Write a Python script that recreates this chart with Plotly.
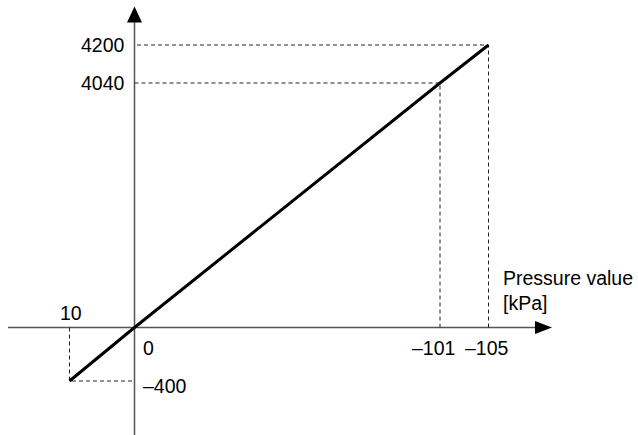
import numpy as np
import plotly.graph_objects as go

# values (pressure in kPa -> output value)
pressure_kpa = [10, 0, -101, -105]
output_value = [-400, 0, 4040, 4200]
x_labels = ["10", "0", "–101", "–105"]
y_labels = ["–400", "0", "4040", "4200"]

# the diagram is not drawn to scale, so use a schematic scale per axis
x_scale_in = [-105, -101, 0, 10]
x_scale_out = [354, 305.5, 0, -65]
y_scale_in = [-400, 0, 4040, 4200]
y_scale_out = [-53.5, 0, 244.5, 282.5]

xs = np.interp(pressure_kpa, x_scale_in, x_scale_out)
ys = np.interp(output_value, y_scale_in, y_scale_out)

FONT = "Liberation Sans, Arial, Helvetica, sans-serif"
FONT_SIZE = 19.5
AXIS_COLOR = "#555555"

fig = go.Figure()

# dashed guide lines from each point to the axes
gx, gy = [], []
for px, py in zip(xs, ys):
    if px == 0 and py == 0:
        continue
    gx += [px, px, 0, None]
    gy += [0, py, py, None]
fig.add_trace(go.Scatter(x=gx, y=gy, mode="lines",
                         line=dict(color="#222222", width=1, dash="4px,3px"),
                         hoverinfo="skip"))

# characteristic line
fig.add_trace(go.Scatter(x=xs, y=ys, mode="lines",
                         line=dict(color="black", width=3)))

shapes = [
    # axes
    dict(type="line", x0=-126.5, x1=401, y0=0, y1=0, line=dict(color=AXIS_COLOR, width=1.5)),
    dict(type="line", x0=0, x1=0, y0=-110, y1=306, line=dict(color=AXIS_COLOR, width=1.5)),
    # arrow heads
    dict(type="path", path="M -7.5 305 L 7.5 305 L 0 321 Z",
         fillcolor="black", line=dict(width=0)),
    dict(type="path", path="M 400.5 -6.5 L 400.5 6.5 L 417.5 0 Z",
         fillcolor="black", line=dict(width=0)),
]
for s in shapes:
    s.update(xref="x", yref="y", layer="below" if s["type"] == "line" else "above")

annotations = []


def label(text, x, y, xanchor="center", xshift=0, yshift=0, align="center", yref="y"):
    annotations.append(dict(text=text, x=x, y=y, xref="x", yref=yref, showarrow=False,
                            xanchor=xanchor, yanchor="middle", xshift=xshift, yshift=yshift,
                            align=align, font=dict(family=FONT, size=FONT_SIZE, color="black")))


# y-axis labels
label(y_labels[3], 0, ys[3], xanchor="right", xshift=-8)
label(y_labels[2], 0, ys[2], xanchor="right", xshift=-8)
label(y_labels[0], 0, ys[0], xanchor="left", xshift=6, yshift=-5)
# x-axis labels
label(x_labels[0], xs[0], 0, xshift=1, yshift=15)
label(x_labels[1], 0, 0, xshift=13.5, yshift=-20.5)
label(x_labels[2], xs[2], 0, xshift=-7, yshift=-20.5)
label(x_labels[3], xs[3], 0, xshift=-2, yshift=-20.5)
# axis titles (the y title sits mostly above the visible page, as in the source)
label("Pressure value<br>[kPa]", 366, 37.5, xanchor="left", align="left")
label("Output current value (H)", -87, 1, xanchor="left", align="left", yref="paper", yshift=11.5)

fig.update_layout(
    width=638, height=435,
    margin=dict(l=0, r=0, t=0, b=0),
    paper_bgcolor="white", plot_bgcolor="white",
    showlegend=False,
    shapes=shapes,
    annotations=annotations,
    xaxis=dict(range=[-134.5, 503.5], visible=False, fixedrange=True),
    yaxis=dict(range=[-107.5, 327.5], visible=False, fixedrange=True),
)

# drop the default page margin so the figure sits at the window's corner
fig.write_html("out.html", post_script="document.body.style.margin='0';",
               config={"displayModeBar": False})
